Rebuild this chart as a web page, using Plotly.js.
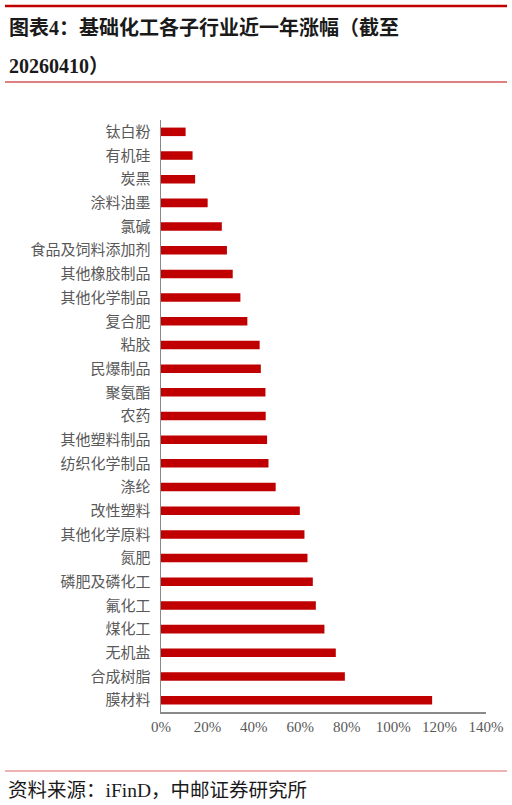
<!DOCTYPE html>
<html>
<head>
<meta charset="utf-8">
<script src="https://cdn.plot.ly/plotly-3.0.1.min.js"></script>
<style>
  html, body { margin: 0; padding: 0; background: #fff; }
  #chart { width: 512px; height: 805px; }
</style>
</head>
<body>
<div id="chart"></div>
<script>
// Categories, top to bottom as shown
const categories = [
  "钛白粉", "有机硅", "炭黑", "涂料油墨", "氯碱", "食品及饲料添加剂",
  "其他橡胶制品", "其他化学制品", "复合肥", "粘胶", "民爆制品", "聚氨酯",
  "农药", "其他塑料制品", "纺织化学制品", "涤纶", "改性塑料", "其他化学原料",
  "氮肥", "磷肥及磷化工", "氟化工", "煤化工", "无机盐", "合成树脂", "膜材料"
];
// Near-one-year gain, percent
const gains = [
  10.6, 13.6, 14.7, 20.1, 26.2, 28.4,
  30.9, 34.2, 37.2, 42.5, 43.0, 45.0,
  45.1, 45.7, 46.3, 49.4, 59.8, 61.8,
  63.1, 65.4, 66.7, 70.4, 75.3, 79.2, 116.8
];
const xTickValues = [0, 20, 40, 60, 80, 100, 120, 140];
const xTickLabels = ["0%", "20%", "40%", "60%", "80%", "100%", "120%", "140%"];
const titleLine1 = "图表4：基础化工各子行业近一年涨幅（截至";
const titleLine2 = "20260410）";
const sourceText = "资料来源：iFinD，中邮证券研究所";

const FONT = "'Liberation Serif', 'Noto Sans CJK SC', serif";
const W = 512, H = 805;
const L = 161, R = 26, T = 120, B = 93;
const pw = W - L - R, ph = H - T - B;
const px = x => (x - L) / pw;
const py = y => (H - B - y) / ph;

const trace = {
  type: "bar",
  orientation: "h",
  x: gains,
  y: categories,
  marker: { color: "#C00000", line: { width: 0 } },
  hoverinfo: "skip"
};

const layout = {
  width: W, height: H,
  margin: { l: L, r: R, t: T, b: B, pad: 0 },
  paper_bgcolor: "#fff",
  plot_bgcolor: "#fff",
  showlegend: false,
  bargap: 0.64,
  font: { family: FONT, color: "#595959" },
  xaxis: {
    range: [0, 140],
    tickvals: xTickValues,
    ticktext: xTickLabels,
    showgrid: false,
    zeroline: false,
    showline: true,
    linecolor: "#898989",
    linewidth: 1.5,
    ticks: "",
    tickfont: { family: FONT, size: 15, color: "#595959" },
    fixedrange: true
  },
  yaxis: {
    type: "category",
    autorange: "reversed",
    showgrid: false,
    zeroline: false,
    showline: true,
    linecolor: "#898989",
    linewidth: 1.5,
    ticks: "",
    ticklabelstandoff: 6,
    tickfont: { family: FONT, size: 15, color: "#595959" },
    fixedrange: true
  },
  shapes: [
    { type: "line", xref: "paper", yref: "paper", x0: px(5), x1: px(507), y0: py(6), y1: py(6),
      line: { color: "#C00000", width: 2.5 } },
    { type: "line", xref: "paper", yref: "paper", x0: px(5), x1: px(507), y0: py(82), y1: py(82),
      line: { color: "#C00000", width: 1.2 } },
    { type: "line", xref: "paper", yref: "paper", x0: px(5), x1: px(507), y0: py(771), y1: py(771),
      line: { color: "#E06666", width: 1.2 } }
  ],
  annotations: [
    { xref: "paper", yref: "paper", x: px(7), y: py(28), xanchor: "left", yanchor: "middle",
      text: "<b>" + titleLine1 + "</b>", showarrow: false,
      font: { family: FONT, size: 20, color: "#1a1a1a" } },
    { xref: "paper", yref: "paper", x: px(7), y: py(66), xanchor: "left", yanchor: "middle",
      text: "<b>" + titleLine2 + "</b>", showarrow: false,
      font: { family: FONT, size: 20, color: "#1a1a1a" } },
    { xref: "paper", yref: "paper", x: px(6), y: py(790), xanchor: "left", yanchor: "middle",
      text: sourceText, showarrow: false,
      font: { family: FONT, size: 19.5, color: "#1a1a1a" } }
  ]
};

Plotly.newPlot("chart", [trace], layout, { displayModeBar: false, staticPlot: true });
</script>
</body>
</html>
